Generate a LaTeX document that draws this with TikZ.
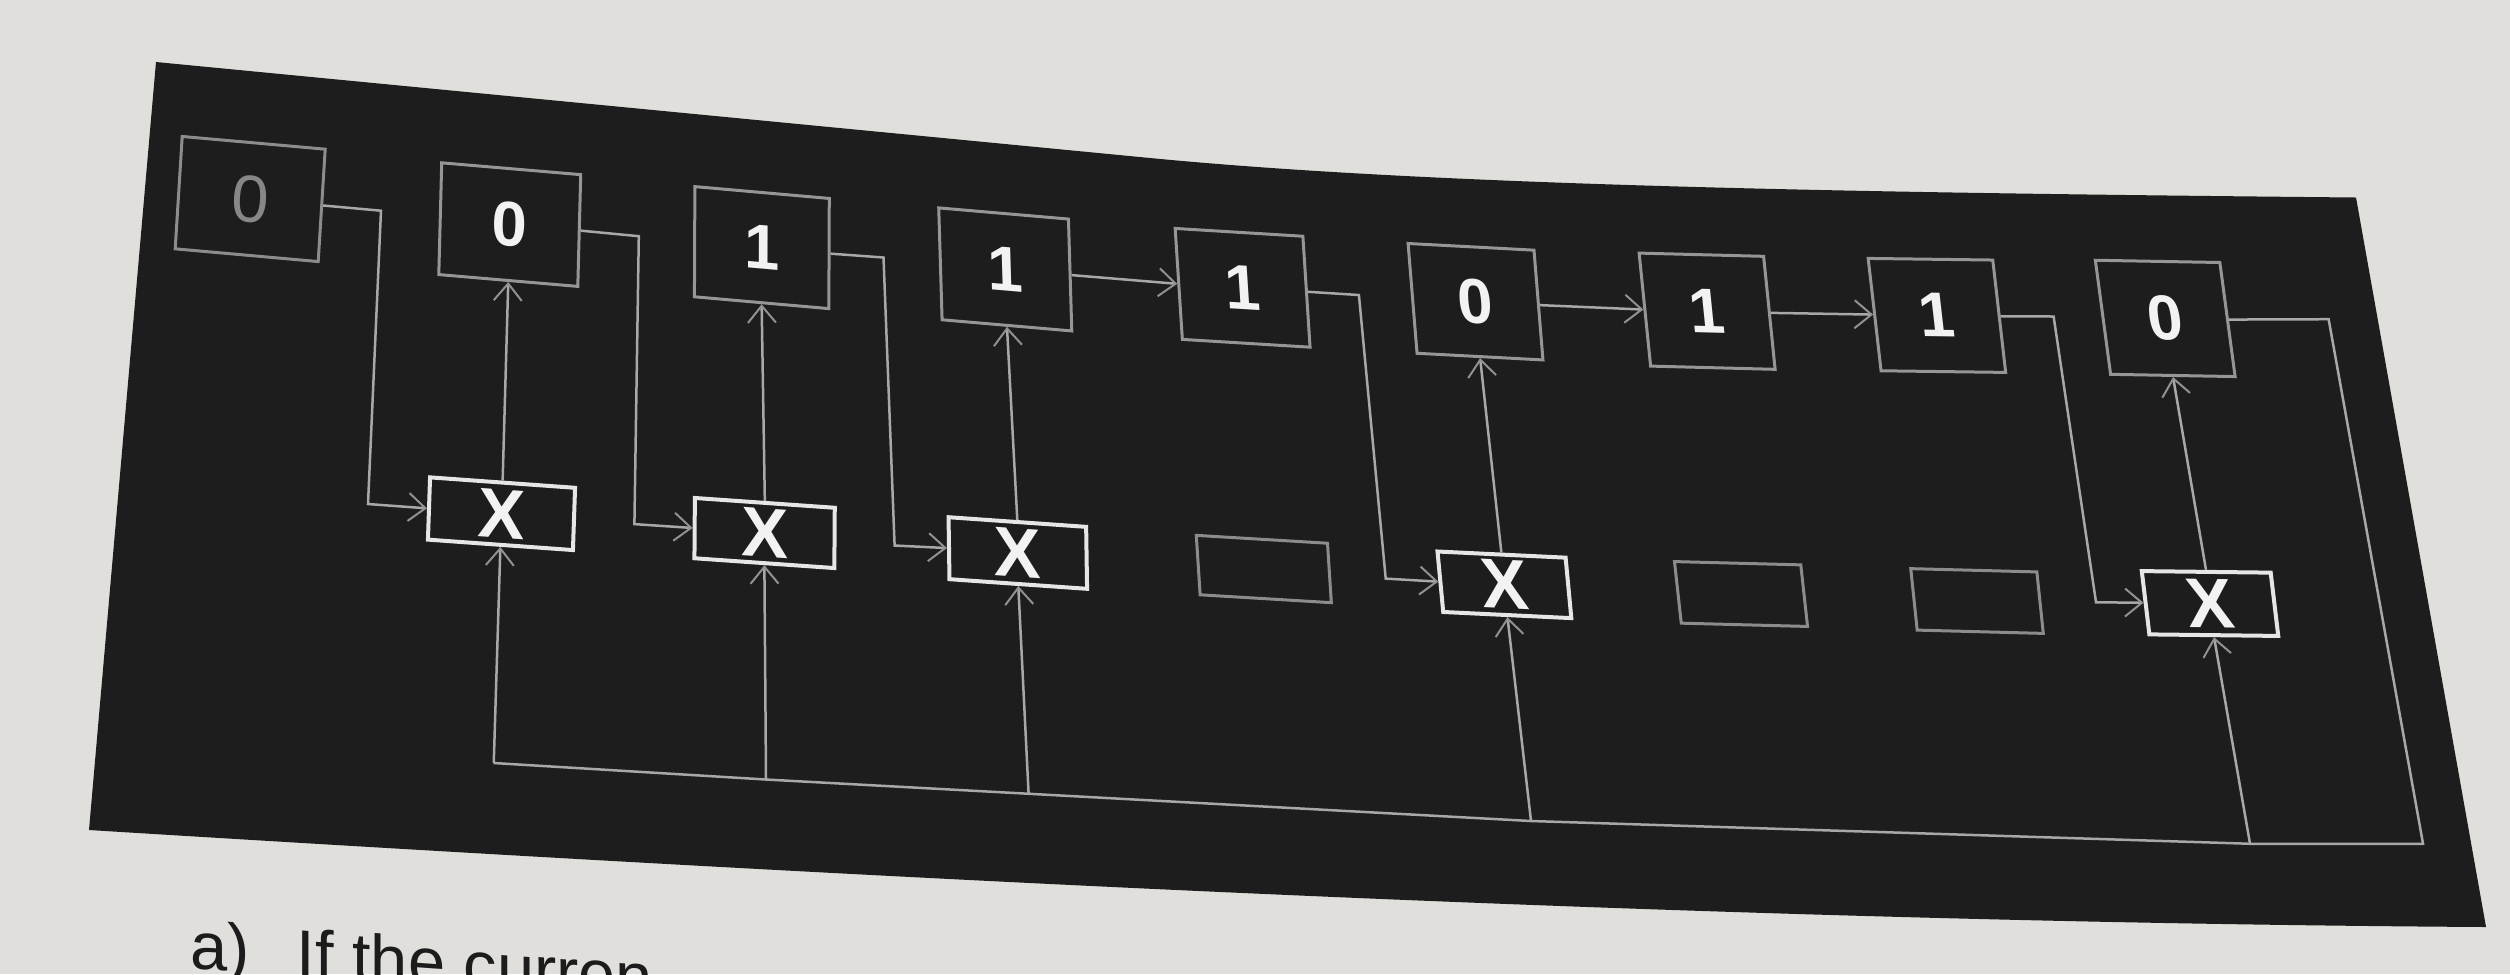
\documentclass[tikz,border=0pt]{standalone}
\usepackage{fontspec}
\setmainfont{Liberation Sans}
\usetikzlibrary{arrows.meta}
\definecolor{page}{RGB}{224,223,219}
\definecolor{panel}{RGB}{29,29,29}
\definecolor{wirec}{RGB}{168,168,168}
\definecolor{boxline}{RGB}{150,150,150}
\definecolor{eline}{RGB}{140,140,140}
\definecolor{xline}{RGB}{230,230,230}
\definecolor{digit}{RGB}{242,242,242}
\definecolor{dimdigit}{RGB}{135,135,135}
\definecolor{tipc}{RGB}{145,145,145}
\definecolor{ink}{RGB}{28,28,28}
% \mkbox{name}{style}{cx}{cy}{w}{h}{yslant}{xslant}{text}
\newcommand\mkbox[9]{\node[#2, minimum width=#5*0.1mm, minimum height=#6*0.1mm, yslant=#7, xslant=#8] (#1) at (#3,#4) {#9};}
\begin{document}
\begin{tikzpicture}[x=0.1mm,y=-0.1mm,
  tbox/.style={draw=boxline, line width=0.3mm, fill=panel, inner sep=0pt, text=digit,
    font=\fontsize{18}{20}\selectfont\bfseries},
  dbox/.style={tbox, draw=eline, text=dimdigit, font=\fontsize{19}{21}\selectfont},
  xbox/.style={draw=xline, line width=0.4mm, fill=panel, inner sep=0pt, text=digit,
    font=\fontsize{20}{24}\selectfont\bfseries},
  ebox/.style={draw=eline, line width=0.3mm, fill=panel, inner sep=0pt},
  wire/.style={draw=wirec, line width=0.25mm, line join=miter},
  arr/.style={wire, -{Straight Barb[length=1.7mm,width=2.8mm,line width=0.2mm,color=tipc]}},
  pagetext/.style={text=ink, inner sep=0pt, anchor=base west, yslant=-0.07,
    font=\fontsize{19}{22}\selectfont}
]
\useasboundingbox (0,0) rectangle (2510,974);
\clip (0,0) rectangle (2510,974);
\fill[page] (0,0) rectangle (2510,974);
% dark panel
\fill[panel] (156,62) -- (1150,158) .. controls (1450,187) and (1900,193) .. (2356,197.5)
  -- (2486,927) .. controls (1700,922) and (900,880) .. (89,830) -- cycle;
% top row
\mkbox{t0}{dbox}{250.2}{199}{143}{113}{-0.089}{0.062}{0}
\mkbox{t1}{tbox}{509.75}{224.6}{139}{112}{-0.085}{0.026}{0}
\mkbox{t2}{tbox}{761.85}{247.6}{134.4}{110.2}{-0.088}{0.004}{1}
\mkbox{t3}{tbox}{1005.25}{269.4}{129.7}{111.6}{-0.086}{-0.03}{1}
\mkbox{t4}{tbox}{1242.6}{287.8}{127.7}{110.5}{-0.061}{-0.065}{1}
\mkbox{t5}{tbox}{1475.5}{301.7}{125.9}{109.3}{-0.053}{-0.082}{0}
\mkbox{t6}{tbox}{1707.1}{311.2}{124.5}{112.7}{-0.026}{-0.102}{1}
\mkbox{t7}{tbox}{1936.9}{315.4}{124.6}{112.2}{-0.013}{-0.115}{1}
\mkbox{t8}{tbox}{2165.2}{318.4}{124.5}{113.8}{-0.018}{-0.134}{0}
% bottom row
\mkbox{b1}{xbox}{501.5}{513.7}{145}{62.4}{-0.072}{0.034}{X}
\mkbox{b2}{xbox}{764.6}{533}{139.9}{60.3}{-0.07}{0.007}{X}
\mkbox{b3}{xbox}{1017.8}{553}{137.6}{61.9}{-0.07}{-0.015}{X}
\mkbox{b4}{ebox}{1263.8}{569}{131.2}{59.2}{-0.06}{-0.065}{}
\mkbox{b5}{xbox}{1504.4}{584.8}{128.1}{60.2}{-0.048}{-0.095}{X}
\mkbox{b6}{ebox}{1741}{594}{126.3}{61.4}{-0.026}{-0.11}{}
\mkbox{b7}{ebox}{1977}{601}{126.1}{61.3}{-0.026}{-0.105}{}
\mkbox{b8}{xbox}{2210}{603.5}{128.9}{63.2}{-0.012}{-0.12}{X}
% routing points
\coordinate (c0a) at (381,210.7);   \coordinate (c0b) at (368,504);
\coordinate (c1a) at (638.8,236.2); \coordinate (c1b) at (634.4,524.1);
\coordinate (c2a) at (883.5,257.5); \coordinate (c2b) at (894.6,545.5);
\coordinate (c4a) at (1358.9,295);  \coordinate (c4b) at (1385.7,578.6);
\coordinate (c7a) at (2053.6,316.5);\coordinate (c7b) at (2096,602.3);
\coordinate (rt) at (2328.6,319.2); \coordinate (rb) at (2423,843.75);
\coordinate (j8) at (2250,843.75);  \coordinate (j5) at (1531,821);
\coordinate (j3) at (1028.6,793.75);\coordinate (j2) at (766,779.5);
\coordinate (j1) at (493.75,763);
% connectors
\draw[arr] (t0.east) -- (c0a) -- (c0b) -- (b1.west);
\draw[arr] (b1.north) -- (t1.south);
\draw[arr] (t1.east) -- (c1a) -- (c1b) -- (b2.west);
\draw[arr] (b2.north) -- (t2.south);
\draw[arr] (t2.east) -- (c2a) -- (c2b) -- (b3.west);
\draw[arr] (b3.north) -- (t3.south);
\draw[arr] (t3.east) -- (t4.west);
\draw[arr] (t4.east) -- (c4a) -- (c4b) -- (b5.west);
\draw[arr] (b5.north) -- (t5.south);
\draw[arr] (t5.east) -- (t6.west);
\draw[arr] (t6.east) -- (t7.west);
\draw[arr] (t7.east) -- (c7a) -- (c7b) -- (b8.west);
\draw[arr] (b8.north) -- (t8.south);
\draw[wire] (t8.east) -- (rt) -- (rb) -- (j8) -- (j5) -- (j3) -- (j2) -- (j1);
\draw[arr] (j1) -- (b1.south);
\draw[arr] (j2) -- (b2.south);
\draw[arr] (j3) -- (b3.south);
\draw[arr] (j5) -- (b5.south);
\draw[arr] (j8) -- (b8.south);
% page text below the figure
\node[pagetext] (qa) at (190,968) {a)};
\node[pagetext] (qtext) at (296,976) {If the curren};
\end{tikzpicture}
\end{document}
